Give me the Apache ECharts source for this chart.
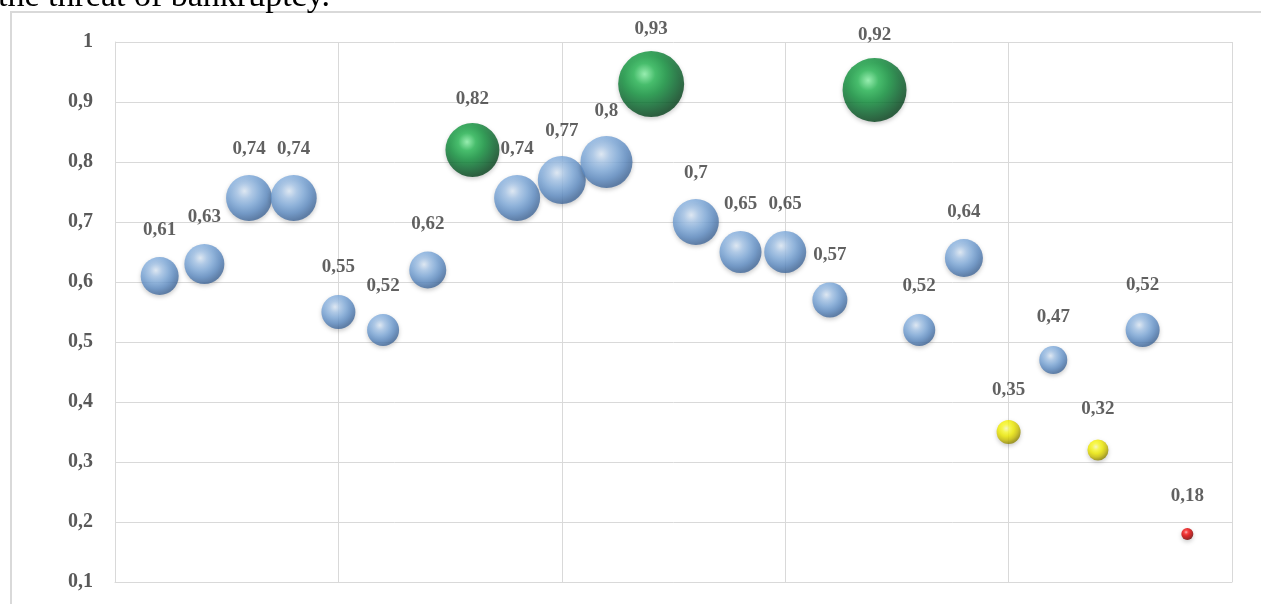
<!DOCTYPE html>
<html>
<head>
<meta charset="utf-8">
<script src="https://cdn.jsdelivr.net/npm/echarts@6/dist/echarts.min.js"></script>
<style>
  html, body { margin: 0; padding: 0; background: #fff; }
  #chart { width: 1261px; height: 604px; }
</style>
</head>
<body>
<div id="chart"></div>
<script>
// position of each bubble along the (hidden) x scale
const positions = [1, 2, 3, 4, 5, 6, 7, 8, 9, 10, 11, 12, 13, 14, 15, 16, 17, 18, 19, 20, 21, 22, 23, 24]
const values = [0.61, 0.63, 0.74, 0.74, 0.55, 0.52, 0.62, 0.82, 0.74, 0.77, 0.8, 0.93,
  0.7, 0.65, 0.65, 0.57, 0.92, 0.52, 0.64, 0.35, 0.47, 0.32, 0.52, 0.18]
// bubble size (third dimension)
const sizes = [38, 40, 46, 46, 34, 32, 37, 54, 46, 48, 52, 66,
  46, 42, 42, 35, 64, 32, 38, 24, 28, 21, 34, 12]
const yTicks = [0.1, 0.2, 0.3, 0.4, 0.5, 0.6, 0.7, 0.8, 0.9, 1]

const chart = echarts.init(document.getElementById('chart'))

function ball(stops) {
  return new echarts.graphic.RadialGradient(0.4, 0.35, 0.65,
    stops.map((c, i) => ({ offset: i / (stops.length - 1), color: c })))
}
const blue = ball(['#e2eefb', '#a8c8ec', '#80acdd', '#5d8cc4', '#41689a'])
const green = ball(['#8af5a8', '#26b954', '#0e933b', '#086a2d', '#04421b'])
const yellow = ball(['#ffffc0', '#ffff30', '#f2ee00', '#cfc400', '#8f8600'])
const red = ball(['#ffb0b0', '#ff2020', '#e00000', '#b00000', '#700000'])

function colorFor(v) {
  if (v > 0.8) return green
  if (v < 0.2) return red
  if (v < 0.4) return yellow
  return blue
}

const fmt = (v) => String(v).replace('.', ',')
const serif = '"Liberation Serif", "DejaVu Serif", serif'

chart.setOption({
  animation: false,
  graphic: [
    {
      type: 'text', left: -2, top: -20,
      style: { text: 'the threat of bankruptcy.', font: '34px ' + serif, fill: '#000' }
    },
    {
      type: 'rect', shape: { x: 11, y: 12, width: 1260, height: 610 },
      style: { fill: 'none', stroke: '#d9d9d9', lineWidth: 2 }, z: -1
    }
  ],
  grid: { left: 115, right: 29, top: 42, bottom: 22 },
  xAxis: {
    type: 'value', min: 0, max: 25, interval: 5,
    axisLine: { show: true, lineStyle: { color: '#d9d9d9' } },
    axisTick: { show: false },
    axisLabel: { show: false },
    splitLine: { show: true, lineStyle: { color: '#d9d9d9' } }
  },
  yAxis: {
    type: 'value', min: yTicks[0], max: yTicks[yTicks.length - 1], interval: 0.1,
    axisLine: { show: true, lineStyle: { color: '#d9d9d9' } },
    axisTick: { show: false },
    axisLabel: {
      margin: 22, color: '#595959', fontFamily: serif, fontWeight: 'bold', fontSize: 20,
      formatter: (v) => fmt(Math.round(v * 10) / 10)
    },
    splitLine: { show: true, lineStyle: { color: '#d9d9d9' } }
  },
  series: [
    {
      type: 'scatter',
      data: positions.map((x, i) => ({
        value: [x, values[i]],
        symbolSize: sizes[i],
        itemStyle: { color: colorFor(values[i]) },
        label: { offset: [0, -(34 + sizes[i] * 0.32)] }
      })),
      itemStyle: {
        shadowBlur: 4, shadowColor: 'rgba(0,0,0,0.25)', shadowOffsetY: 2
      },
      label: {
        show: true, position: 'inside',
        formatter: (p) => fmt(p.value[1]),
        fontFamily: serif, fontWeight: 'bold', fontSize: 19, color: '#3a3a3a'
      }
    }
  ]
})
</script>
</body>
</html>
